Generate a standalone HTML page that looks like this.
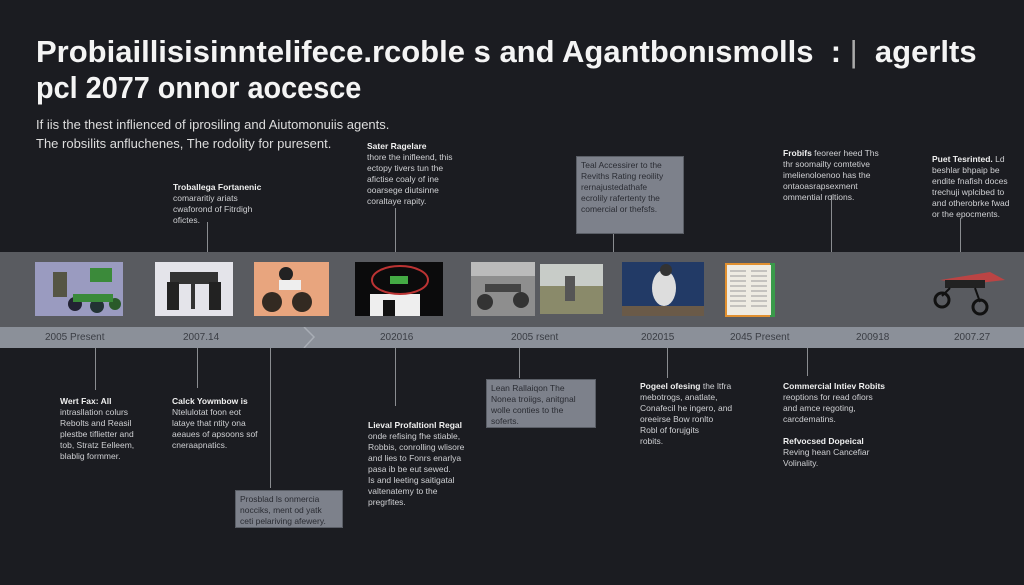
<!DOCTYPE html>
<html><head><meta charset="utf-8"><style>
*{margin:0;padding:0;box-sizing:border-box}
body{width:1024px;height:585px;background:#1b1c21;position:relative;overflow:hidden;font-family:"Liberation Sans",sans-serif;color:#e8e8ea}
.a{position:absolute}
.t{font-weight:bold;font-size:31px;white-space:nowrap;transform-origin:0 0;color:#f4f4f4}
.s{font-size:13px;color:#ddd;white-space:nowrap}
.n{font-size:8.5px;line-height:11px;color:#cfd0d3}
.n b{color:#f0f0f0}
.v{width:1px;background:#8a8c90}
.box{background:#7d818b;color:#2a2c33;border:1px solid #5a5e66;padding:3px 4px}
.yr{font-size:10px;color:#3a3d44;top:332px}
.img{top:262px;height:54px}
</style></head><body>
<div class="a t" style="left:36px;top:34px;transform:scaleX(1.0)">Probiaillisisinntelifece.rcoble s and Agantbonısmolls&nbsp; : <span style="font-weight:normal;color:#aaa">|</span>&nbsp;&nbsp;agerlts</div>
<div class="a t" style="left:36px;top:70px;transform:scaleX(0.93)">pcl 2077 onnor aocesce</div>
<div class="a s" style="left:36px;top:117px">If iis the thest inflienced of iprosiling and Aiutomonuiis agents.</div>
<div class="a s" style="left:36px;top:136px">The robsilits anfluchenes, The rodolity for puresent.</div>

<div class="a" style="left:0;top:252px;width:1024px;height:75px;background:#595b60"></div>
<div class="a" style="left:0;top:327px;width:1024px;height:21px;background:#8b9099"></div>
<svg class="a" style="left:300px;top:327px" width="16" height="21"><polyline points="4,0 14,10 4,21" fill="none" stroke="#a8adb5" stroke-width="1.5"/></svg>

<div class="a img" style="left:35px;width:88px;background:#9a9bc0"><svg width="88" height="54"><rect x="55" y="6" width="22" height="14" fill="#3b8a3a"/><rect x="18" y="10" width="14" height="25" fill="#554"/><circle cx="40" cy="42" r="7" fill="#223"/><circle cx="62" cy="44" r="7" fill="#233"/><circle cx="80" cy="42" r="6" fill="#2a5a2a"/><rect x="38" y="32" width="40" height="8" fill="#3a8a3a"/></svg></div>
<div class="a img" style="left:155px;width:78px;background:#e4e4ea"><svg width="78" height="54"><rect x="15" y="10" width="48" height="12" fill="#333"/><rect x="12" y="20" width="12" height="28" fill="#222"/><rect x="54" y="20" width="12" height="28" fill="#222"/><rect x="36" y="22" width="4" height="25" fill="#333"/></svg></div>
<div class="a img" style="left:254px;width:75px;background:#e8a57e"><svg width="75" height="54"><circle cx="32" cy="12" r="7" fill="#222"/><rect x="25" y="18" width="22" height="10" fill="#eee"/><circle cx="18" cy="40" r="10" fill="#332a22"/><circle cx="48" cy="40" r="10" fill="#332a22"/></svg></div>
<div class="a img" style="left:355px;width:88px;background:#0b0b0c"><svg width="88" height="54"><rect x="15" y="32" width="50" height="22" fill="#eee"/><rect x="28" y="38" width="12" height="16" fill="#111"/><ellipse cx="45" cy="18" rx="28" ry="14" fill="none" stroke="#b33" stroke-width="2"/><rect x="35" y="14" width="18" height="8" fill="#4a4"/></svg></div>
<div class="a img" style="left:471px;width:64px;background:#8e8e8e"><svg width="64" height="54"><rect width="64" height="14" fill="#bbb"/><circle cx="14" cy="40" r="8" fill="#333"/><circle cx="50" cy="38" r="8" fill="#333"/><rect x="14" y="22" width="36" height="8" fill="#444"/></svg></div>
<div class="a img" style="left:540px;width:63px;top:264px;height:50px;background:#8a8a6a"><svg width="63" height="50"><rect width="63" height="22" fill="#c8ccc8"/><rect x="25" y="12" width="10" height="25" fill="#555"/></svg></div>
<div class="a img" style="left:622px;width:82px;background:#223a66"><svg width="82" height="54"><rect y="44" width="82" height="10" fill="#6a5a48"/><ellipse cx="42" cy="26" rx="12" ry="18" fill="#ddd"/><circle cx="44" cy="8" r="6" fill="#333"/></svg></div>
<svg class="a" style="left:724px;top:262px" width="52" height="56"><rect x="1" y="1" width="50" height="54" fill="#e09030"/><rect x="46" y="1" width="5" height="54" fill="#3a9a4a"/><rect x="3" y="3" width="44" height="50" fill="#eeebe2"/><g stroke="#9a9a9a" stroke-width="1"><line x1="6" y1="9" x2="22" y2="9"/><line x1="6" y1="14" x2="22" y2="14"/><line x1="6" y1="19" x2="22" y2="19"/><line x1="6" y1="24" x2="22" y2="24"/><line x1="6" y1="29" x2="22" y2="29"/><line x1="6" y1="34" x2="22" y2="34"/><line x1="6" y1="39" x2="22" y2="39"/><line x1="6" y1="44" x2="22" y2="44"/><line x1="27" y1="9" x2="43" y2="9"/><line x1="27" y1="14" x2="43" y2="14"/><line x1="27" y1="19" x2="43" y2="19"/><line x1="27" y1="24" x2="43" y2="24"/><line x1="27" y1="29" x2="43" y2="29"/><line x1="27" y1="34" x2="43" y2="34"/><line x1="27" y1="39" x2="43" y2="39"/><line x1="27" y1="44" x2="43" y2="44"/></g></svg>
<svg class="a" style="left:930px;top:262px" width="78" height="60"><path d="M10 18 L60 10 L75 18 L40 22Z" fill="#b44"/><rect x="15" y="18" width="40" height="8" fill="#222"/><circle cx="12" cy="38" r="7" fill="none" stroke="#111" stroke-width="3"/><circle cx="50" cy="45" r="7" fill="none" stroke="#111" stroke-width="3"/><line x1="20" y1="26" x2="12" y2="34" stroke="#111" stroke-width="2"/><line x1="45" y1="26" x2="50" y2="40" stroke="#111" stroke-width="2"/></svg>

<div class="a yr" style="left:45px">2005 Present</div>
<div class="a yr" style="left:183px">2007.14</div>
<div class="a yr" style="left:380px">202016</div>
<div class="a yr" style="left:511px">2005 rsent</div>
<div class="a yr" style="left:641px">202015</div>
<div class="a yr" style="left:730px">2045 Present</div>
<div class="a yr" style="left:856px">200918</div>
<div class="a yr" style="left:954px">2007.27</div>

<div class="a v" style="left:207px;top:222px;height:30px"></div>
<div class="a v" style="left:395px;top:208px;height:44px"></div>
<div class="a v" style="left:613px;top:234px;height:18px"></div>
<div class="a v" style="left:831px;top:195px;height:57px"></div>
<div class="a v" style="left:960px;top:218px;height:34px"></div>

<div class="a n" style="left:173px;top:182px"><b>Troballega Fortanenic</b><br>comararitiy ariats<br>cwaforond of Fitrdigh<br>ofictes.</div>
<div class="a n" style="left:367px;top:141px"><b>Sater Ragelare</b><br>thore the inifleend, this<br>ectopy tivers tun the<br>afictise coaly of ine<br>ooarsege diutsinne<br>coraltaye rapity.</div>
<div class="a n box" style="left:576px;top:156px;width:108px;height:78px">Teal Accessirer to the<br>Reviths Rating reoility<br>rernajustedathafe<br>ecrolily rafertenty the<br>comercial or thefsfs.</div>
<div class="a n" style="left:783px;top:148px"><b>Frobifs</b> feoreer heed Ths<br>thr soomailty comtetive<br>imelienoloenoo has the<br>ontaoasrapsexment<br>ommential roltions.</div>
<div class="a n" style="left:932px;top:154px"><b>Puet Tesrinted.</b> Ld<br>beshlar bhpaip be<br>endite fnafish doces<br>trechuji wplcibed to<br>and otherobrke fwad<br>or the epocments.</div>

<div class="a v" style="left:95px;top:348px;height:42px"></div>
<div class="a v" style="left:197px;top:348px;height:40px"></div>
<div class="a v" style="left:270px;top:348px;height:140px"></div>
<div class="a v" style="left:395px;top:348px;height:58px"></div>
<div class="a v" style="left:519px;top:348px;height:30px"></div>
<div class="a v" style="left:667px;top:348px;height:30px"></div>
<div class="a v" style="left:807px;top:348px;height:28px"></div>

<div class="a n" style="left:60px;top:396px"><b>Wert Fax: All</b><br>intrasllation colurs<br>Rebolts and Reasil<br>plestbe tiflietter and<br>tob, Stratz Eelleem,<br>blablig formmer.</div>
<div class="a n" style="left:172px;top:396px"><b>Calck Yowmbow is</b><br>Ntelulotat foon eot<br>lataye that ntity ona<br>aeaues of apsoons sof<br>cneraapnatics.</div>
<div class="a n box" style="left:235px;top:490px;width:108px;height:38px">Prosblad ls onmercia<br>nocciks, ment od yatk<br>ceti pelariving afewery.</div>
<div class="a n" style="left:368px;top:420px"><b>Lieval Profaltionl Regal</b><br>onde refising fhe stiable,<br>Robbis, conrolling wlisore<br>and lies to Fonrs enarlya<br>pasa ib be eut sewed.<br>Is and leeting saitigatal<br>valtenatemy to the<br>pregrfites.</div>
<div class="a n box" style="left:486px;top:379px;width:110px;height:49px">Lean Rallaiqon The<br>Nonea troiigs, anitgnal<br>wolle conties to the<br>soferts.</div>
<div class="a n" style="left:640px;top:381px"><b>Pogeel ofesing</b> the ltfra<br>mebotrogs, anatlate,<br>Conafecil he ingero, and<br>oreeirse Bow ronlto<br>Robl of forujgits<br>robits.</div>
<div class="a n" style="left:783px;top:381px"><b>Commercial Intiev Robits</b><br>reoptions for read ofiors<br>and amce regoting,<br>carcdematins.<br><br><b>Refvocsed Dopeical</b><br>Reving hean Cancefiar<br>Volinality.</div>
</body></html>
